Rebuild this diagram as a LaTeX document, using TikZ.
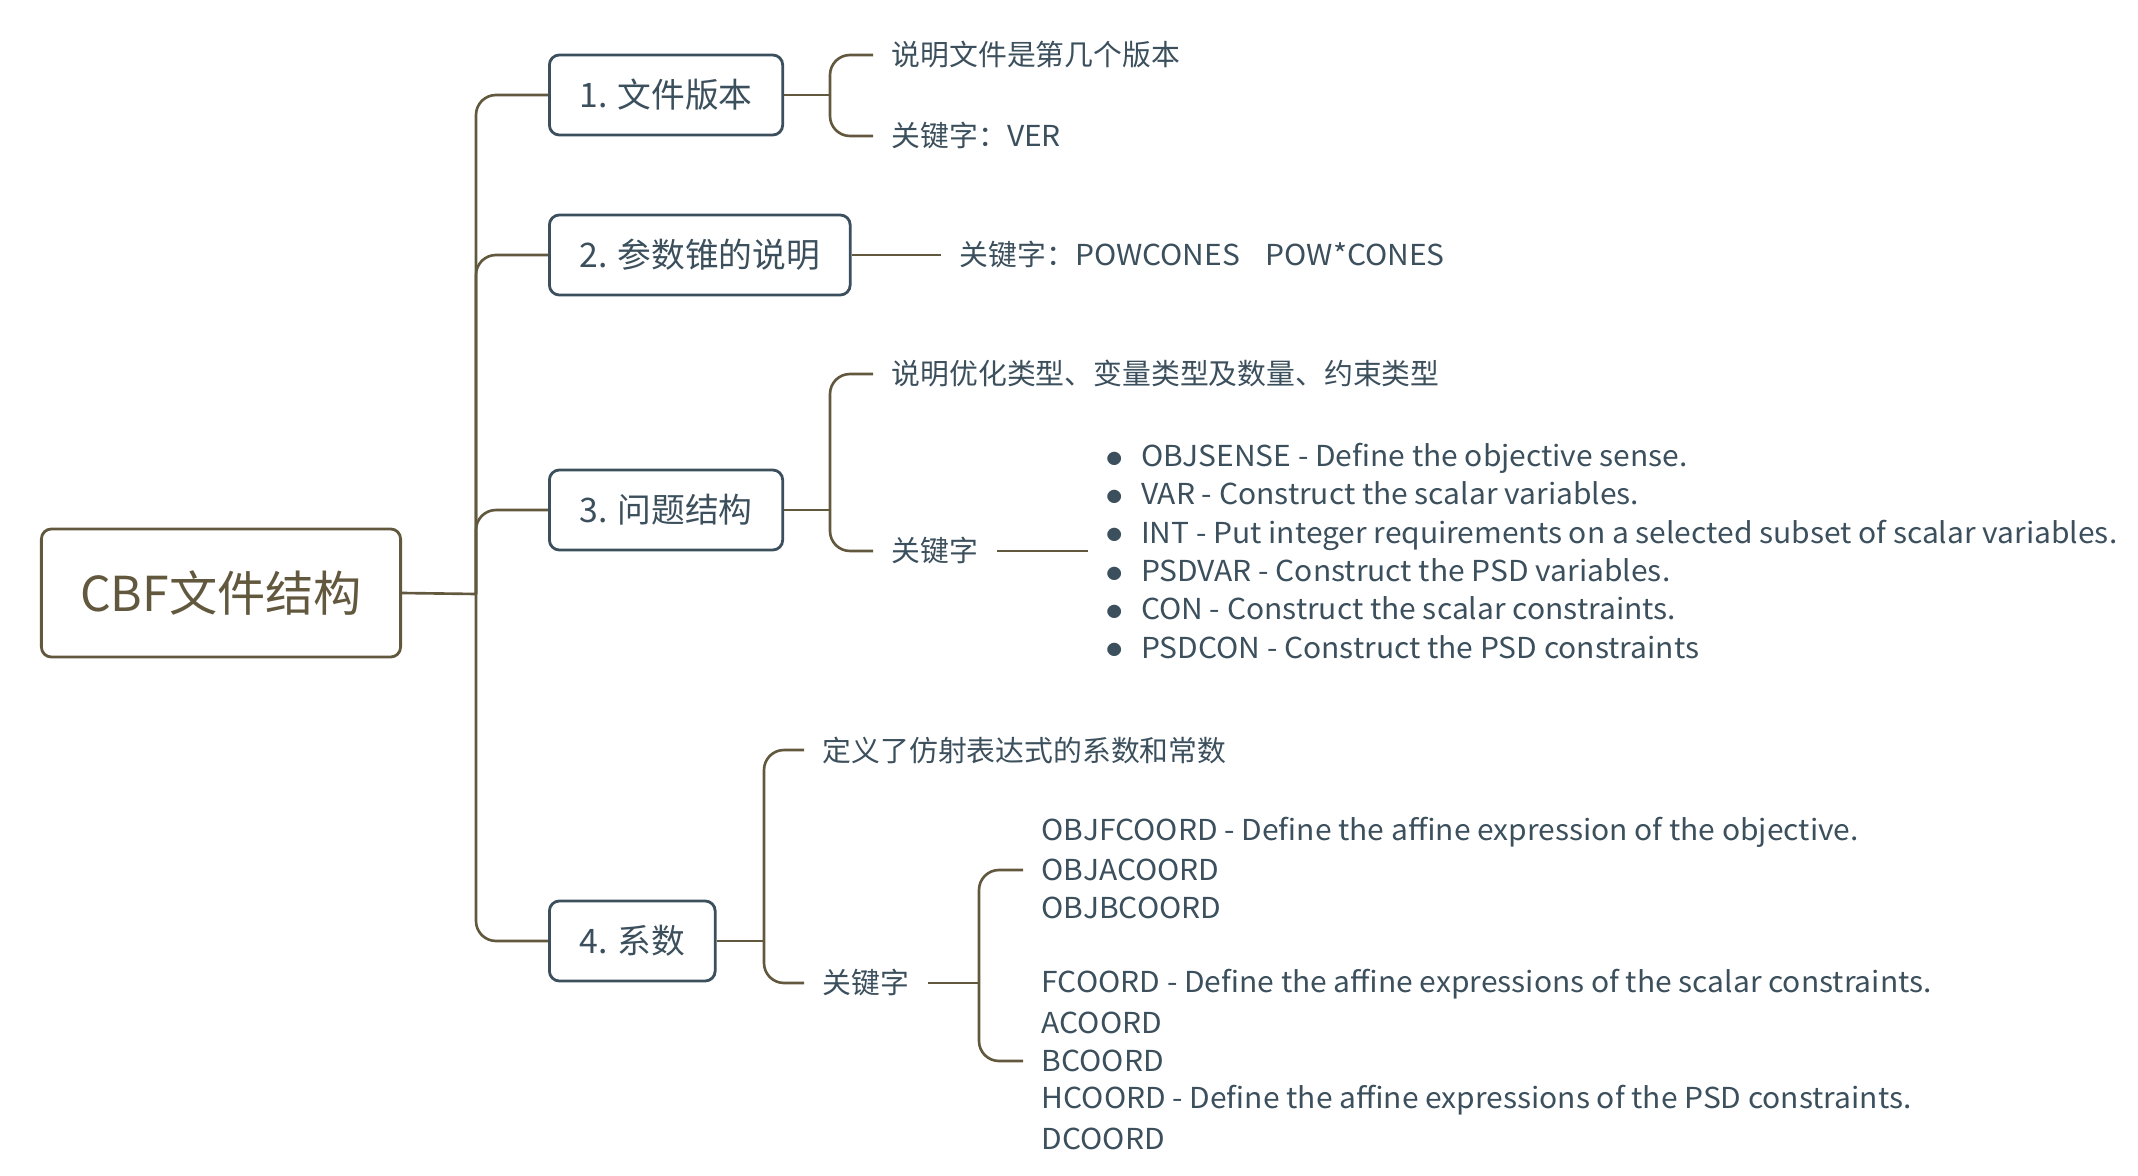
\documentclass[tikz,border=0pt]{standalone}
\usepackage{fontspec}
\setmainfont{Noto Sans CJK SC}
\newfontfamily\latinwide{Noto Sans CJK SC}[FakeStretch=1.04]
\usepackage{tikz}
\usetikzlibrary{positioning}
\definecolor{mmbrown}{RGB}{98,88,62}
\definecolor{mmslate}{RGB}{59,79,92}
\newcommand{\itemdot}{\raisebox{0.15ex}{\fontsize{4.2}{4.2}\selectfont ●}\hspace{1.9mm}}

\begin{document}
\begin{tikzpicture}[
  x=0.01cm, y=-0.01cm,
  link/.style={draw=mmbrown, line width=0.75pt, rounded corners=2mm},
  rootbox/.style={rectangle, draw=mmbrown, line width=0.8pt, rounded corners=1mm, minimum width=3.59cm, minimum height=1.28cm, text=mmbrown, font=\fontsize{13.7}{16}\selectfont},
  topic/.style={rectangle, draw=mmslate, line width=0.8pt, rounded corners=1mm, minimum height=0.8cm, inner xsep=0.3cm, text=mmslate, font=\fontsize{9.6}{12}\selectfont, anchor=west},
  leaf/.style={inner xsep=1.8mm, inner ysep=0.5mm, anchor=west, text=mmslate, font=\fontsize{8.2}{10.9}\selectfont},
  latinleaf/.style={leaf, font=\fontsize{8.2}{10.9}\latinwide},
]
  \useasboundingbox (0,0) rectangle (2138,1176);

  % Root
  \node[rootbox] (root) at (221,593) {CBF文件结构};
  \coordinate (hub) at (476,594);

  % Topics
  \node[topic] (b1) at (548,95) {1. 文件版本};
  \node[topic] (b2) at (548,255) {2. 参数锥的说明};
  \node[topic] (b3) at (548,510) {3. 问题结构};
  \node[topic] (b4) at (548,941) {4. 系数};

  \draw[link] (root.east) -- (hub);
  \foreach \b in {b1,b2,b3,b4}
    \draw[link] (hub) |- (\b.west);

  % 1. version
  \coordinate (h1) at (830,95);
  \node[leaf] (t11) at (873,55) {说明文件是第几个版本};
  \node[leaf] (t12) at (873,136) {关键字：{\latinwide VER}};
  \draw[link] (b1.east) -- (h1);
  \draw[link] (h1) |- (t11.west);
  \draw[link] (h1) |- (t12.west);

  % 2. cones
  \node[leaf] (t21) at (941,255) {关键字：{\latinwide POWCONES\hspace{0.9em}POW*CONES}};
  \draw[link] (b2.east) -- (t21.west);

  % 3. problem structure
  \coordinate (h3) at (830,510);
  \node[leaf] (t31) at (873,374) {说明优化类型、变量类型及数量、约束类型};
  \node[leaf] (t32) at (873,551) {关键字};
  \node[latinleaf, align=left] (l3) at (1088,551) {%
    \itemdot OBJSENSE - Define the objective sense.\\
    \itemdot VAR - Construct the scalar variables.\\
    \itemdot INT - Put integer requirements on a selected subset of scalar variables.\\
    \itemdot PSDVAR - Construct the PSD variables.\\
    \itemdot CON - Construct the scalar constraints.\\
    \itemdot PSDCON - Construct the PSD constraints};
  \draw[link] (b3.east) -- (h3);
  \draw[link] (h3) |- (t31.west);
  \draw[link] (h3) |- (t32.west);
  \draw[link] (t32.east) -- (l3.west);

  % 4. coefficients
  \coordinate (h4) at (764,941);
  \node[leaf] (t41) at (804,750) {定义了仿射表达式的系数和常数};
  \node[leaf] (t42) at (804,983) {关键字};
  \coordinate (k4) at (979,983);
  \foreach \n/\yy/\txt in {
      c1/832/{OBJFCOORD - Define the affine expression of the objective.},
      c2/870/{OBJACOORD},
      c3/908/{OBJBCOORD},
      c5/984/{FCOORD - Define the affine expressions of the scalar constraints.},
      c6/1023/{ACOORD},
      c7/1061/{BCOORD},
      c8/1100/{HCOORD - Define the affine expressions of the PSD constraints.},
      c9/1139/{DCOORD}}
    \node[latinleaf] (\n) at (1023,\yy) {\txt};
  \draw[link] (b4.east) -- (h4);
  \draw[link] (h4) |- (t41.west);
  \draw[link] (h4) |- (t42.west);
  \draw[link] (t42.east) -- (k4);
  \draw[link] (k4) |- (c2.west);
  \draw[link] (k4) |- (c7.west);
\end{tikzpicture}
\end{document}
